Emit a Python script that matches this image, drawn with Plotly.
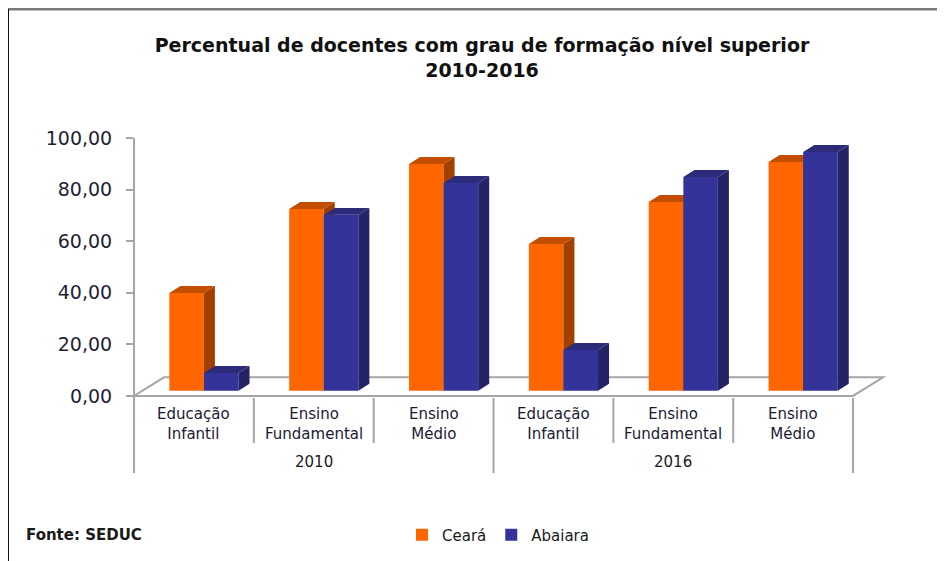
import plotly.graph_objects as go

# ---------------- data ----------------
years = ["2010", "2016"]
levels = ["Educação<br>Infantil", "Ensino<br>Fundamental", "Ensino<br>Médio"]
series_names = ["Ceará", "Abaiara"]
ceara = [39.9, 72.5, 89.9, 58.9, 75.2, 90.7]
abaiara = [8.9, 70.2, 82.6, 17.8, 84.9, 94.6]
y_ticks = [0, 20, 40, 60, 80, 100]
title_text = "Percentual de docentes com grau de formação nível superior<br>2010-2016"
source_text = "Fonte: SEDUC"

# ---------------- style / geometry ----------------
W, H = 945, 561
OFF = 8                      # page body margin offset
L = 128 - OFF                # plot left edge on screen = 128
T = 138 - OFF                # value 100 on screen = 138
PLOT_BOTTOM = 398 - OFF
R = 50 + OFF
B = H - PLOT_BOTTOM
X_RANGE = [-0.55, 5.85]
Y_RANGE = [-0.8, 100]
BASE = 2.0          # bars stand slightly behind the floor front edge
BAR_W = 0.288
OFF_C, OFF_A = -0.205, 0.084
DX, DY = 0.092, 2.7  # bar depth (x units, y units)
FDX, FDY = 0.25, 7.2  # floor depth
FONT = "DejaVu Sans"
colors = {
    "Ceará": dict(front="#FF6600", side="#A33F00", top="#C44E00"),
    "Abaiara": dict(front="#333399", side="#232366", top="#2B2B7A"),
}

PW = W - L - R
PH = H - T - B


def px_x(px):
    """screen px -> paper x"""
    return (px - OFF - L) / PW


def px_y(py):
    """screen px -> paper y"""
    return (PLOT_BOTTOM - (py - OFF)) / PH


ncat = len(years) * len(levels)
xs = list(range(ncat))

fig = go.Figure()


def add_series(name, vals, off, xa, ya):
    c = colors[name]
    fig.add_trace(go.Bar(
        x=xs, y=[v - BASE for v in vals], base=BASE, width=BAR_W, offset=off,
        name=name, marker=dict(color=c["front"], line=dict(width=0)),
        xaxis=xa, yaxis=ya, showlegend=True,
    ))
    sx, sy, tx, ty = [], [], [], []
    for x, v in zip(xs, vals):
        xl = x + off
        xr = xl + BAR_W
        sx += [xr, xr + DX, xr + DX, xr, xr, None]
        sy += [BASE, BASE + DY, v + DY, v, BASE, None]
        tx += [xl, xl + DX, xr + DX, xr, xl, None]
        ty += [v, v + DY, v + DY, v, v, None]
    for px_, py_, col in ((sx, sy, c["side"]), (tx, ty, c["top"])):
        fig.add_trace(go.Scatter(
            x=px_, y=py_, mode="lines", fill="toself", fillcolor=col,
            line=dict(width=0, color=col), hoverinfo="skip",
            showlegend=False, xaxis=xa, yaxis=ya,
        ))


add_series("Ceará", ceara, OFF_C, "x", "y")
add_series("Abaiara", abaiara, OFF_A, "x2", "y2")

axis_pos = (-0.5 - X_RANGE[0]) / (X_RANGE[1] - X_RANGE[0])

fig.update_layout(
    width=W, height=H,
    margin=dict(l=L, r=R, t=T, b=B),
    paper_bgcolor="white", plot_bgcolor="white",
    separators=",.",
    barmode="overlay",
    font=dict(family=FONT, color="#1a1a1a"),
    title=dict(text=f"<b>{title_text}</b>", x=(482 - OFF) / W, xanchor="center",
               xref="container", yref="container", y=1 - (52 - OFF) / H,
               yanchor="top",
               font=dict(family=FONT, size=19, color="#111111")),
    xaxis=dict(range=X_RANGE, visible=False, fixedrange=True),
    xaxis2=dict(range=X_RANGE, visible=False, overlaying="x", matches="x"),
    yaxis=dict(range=Y_RANGE, tickvals=y_ticks, tickformat=".2f",
               showgrid=False, zeroline=False, showline=True,
               linecolor="#a6a6a6", linewidth=2, ticks="outside", ticklen=7,
               tickcolor="#a6a6a6", tickwidth=2, ticklabelstandoff=10,
               anchor="free", position=axis_pos,
               tickfont=dict(family=FONT, size=19, color="#1f1f33")),
    yaxis2=dict(range=Y_RANGE, visible=False, overlaying="y", matches="y"),
    legend=dict(orientation="h", x=px_x(402), xanchor="left",
                y=px_y(535), yanchor="middle",
                font=dict(family=FONT, size=15, color="#1a1a1a"),
                bgcolor="rgba(0,0,0,0)"),
)

# floor (3D base)
fig.add_shape(type="path", xref="x", yref="y", layer="below",
              path=f"M -0.5,0 L 5.5,0 L {5.5 + FDX},{FDY} L {-0.5 + FDX},{FDY} Z",
              line=dict(color="#a6a6a6", width=2), fillcolor="white")

# category dividers
for i in range(ncat + 1):
    xb = i - 0.5
    long = (i % len(levels) == 0)
    fig.add_shape(type="line", xref="x", yref="paper",
                  x0=xb, x1=xb, y0=px_y(398), y1=px_y(473 if long else 443),
                  line=dict(color="#a6a6a6", width=2))

# category labels
for i in xs:
    fig.add_annotation(x=i, y=px_y(424), xref="x", yref="paper",
                       text=levels[i % len(levels)], showarrow=False,
                       xanchor="center", yanchor="middle",
                       font=dict(family=FONT, size=15, color="#1a1a33"))
for j, yr in enumerate(years):
    fig.add_annotation(x=j * len(levels) + (len(levels) - 1) / 2, y=px_y(462),
                       xref="x", yref="paper", text=yr, showarrow=False,
                       xanchor="center", yanchor="middle",
                       font=dict(family=FONT, size=15, color="#1a1a1a"))

fig.add_annotation(x=px_x(24), y=px_y(535), xref="paper", yref="paper",
                   text=f"<b>{source_text}</b>", showarrow=False,
                   xanchor="left", yanchor="middle",
                   font=dict(family=FONT, size=15, color="#1a1a1a"))

# outer frame
fig.add_shape(type="line", xref="paper", yref="paper",
              x0=px_x(8), x1=px_x(953), y0=px_y(9), y1=px_y(9),
              line=dict(color="#7a7a7a", width=3))
fig.add_shape(type="line", xref="paper", yref="paper",
              x0=px_x(8), x1=px_x(8), y0=px_y(9), y1=px_y(569),
              line=dict(color="#111111", width=2))

fig.write_html("out.html")
